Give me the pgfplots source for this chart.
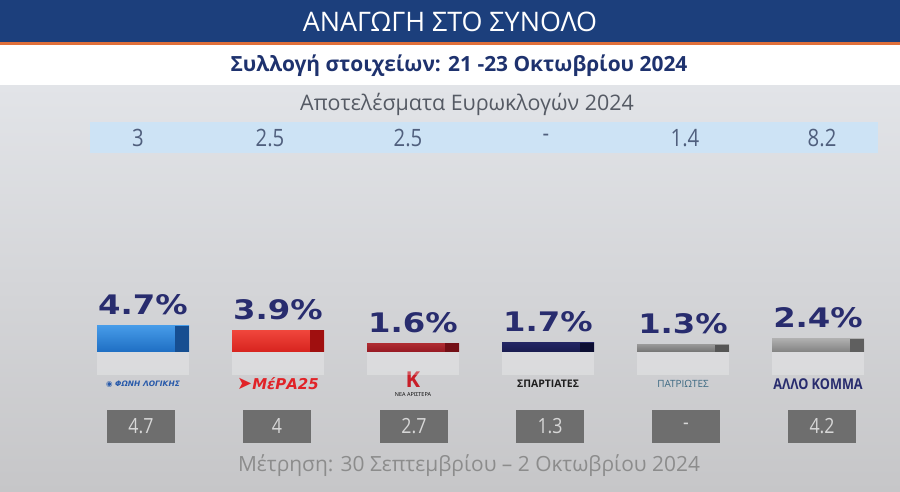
\documentclass[border=0pt]{standalone}
\usepackage{fontspec}
\setmainfont{Open Sans}
\newfontfamily\condfont{Open Sans}[FakeStretch=0.85]
\newfontfamily\pctfont{DejaVu Sans}[FakeStretch=1.2]
\newfontfamily\dejavu{DejaVu Sans}
\usepackage{pgfplots}
\pgfplotsset{compat=1.18}
\definecolor{navyband}{RGB}{28,63,124}
\definecolor{orangeline}{RGB}{224,112,58}
\definecolor{subnavy}{RGB}{30,50,110}
\definecolor{pctnavy}{RGB}{40,44,110}
\definecolor{bandblue}{RGB}{205,227,245}
\definecolor{topval}{RGB}{80,95,125}
\definecolor{boxgray}{RGB}{110,110,110}
\definecolor{boxtext}{RGB}{215,215,215}
\definecolor{footgray}{RGB}{140,140,140}
\definecolor{headgray}{RGB}{85,90,100}
\definecolor{bgtop}{RGB}{226,228,232}
\definecolor{bgmid}{RGB}{243,243,244}
\definecolor{bgbot}{RGB}{198,198,200}
\definecolor{blueL}{RGB}{70,155,232}
\definecolor{blueD}{RGB}{30,110,195}
\definecolor{blueE}{RGB}{22,78,145}
\definecolor{redL}{RGB}{240,70,60}
\definecolor{redD}{RGB}{215,35,30}
\definecolor{redE}{RGB}{160,15,15}
\definecolor{drL}{RGB}{175,45,50}
\definecolor{drD}{RGB}{150,25,35}
\definecolor{drE}{RGB}{115,15,22}
\definecolor{nvL}{RGB}{35,38,100}
\definecolor{nvD}{RGB}{25,28,80}
\definecolor{nvE}{RGB}{12,14,50}
\definecolor{g1L}{RGB}{150,150,150}
\definecolor{g1D}{RGB}{115,115,115}
\definecolor{g1E}{RGB}{85,85,85}
\definecolor{g2L}{RGB}{175,175,175}
\definecolor{g2D}{RGB}{130,130,130}
\definecolor{g2E}{RGB}{95,95,95}
\definecolor{flblue}{RGB}{40,90,170}
\definecolor{mera}{RGB}{225,35,40}
\definecolor{neared}{RGB}{200,30,40}
\definecolor{spblack}{RGB}{30,30,30}
\definecolor{patteal}{RGB}{60,105,130}
\pgfplotsset{
  pct/.style={nodes near coords, point meta=explicit symbolic,
    every node near coord/.style={anchor=base, yshift=11bp, inner sep=0pt,
      font=\pctfont\bfseries\fontsize{27}{30}\selectfont, text=pctnavy}},
  mainbar/.style={ybar, bar width=0.6815, bar shift=0, draw=none},
  endbar/.style={ybar, bar width=0.1037, bar shift=0.2889, draw=none},
}
\begin{document}
\begin{tikzpicture}[x=1bp,y=1bp]
\useasboundingbox (0,0) rectangle (900,492);
\shade[top color=bgtop, middle color=bgmid, bottom color=bgbot] (0,0) rectangle (900,407);
\fill[white] (0,407) rectangle (900,447);
\fill[orangeline] (0,447) rectangle (900,449.5);
\fill[navyband] (0,449.5) rectangle (900,492);
\node[text=white, font=\fontsize{27}{30}\selectfont] at (450,470) {ΑΝΑΓΩΓΗ ΣΤΟ ΣΥΝΟΛΟ};
\node[text=subnavy, font=\bfseries\fontsize{21}{25}\selectfont] at (459,426) {Συλλογή στοιχείων: 21 -23 Οκτωβρίου 2024};
\node[text=headgray, font=\fontsize{21.5}{25}\selectfont] at (467,388) {Αποτελέσματα Ευρωκλογών 2024};
\fill[bandblue] (90,339) rectangle (878,370);
\node[text=footgray, font=\fontsize{21}{25}\selectfont] at (469,26) {Μέτρηση: 30 Σεπτεμβρίου – 2 Οκτωβρίου 2024};
\begin{axis}[at={(0,0)}, anchor=south west, scale only axis,
  width=900bp, height=492bp,
  xmin=-1.05926, xmax=5.60741, ymin=-25.225, ymax=63.423,
  axis line style={draw=none}, tick style={draw=none}, major tick length=0pt,
  clip=false, ytick=\empty, xtick={0,...,5},
  xticklabels={
    {\color{flblue}\dejavu\bfseries\itshape\fontsize{7.5}{9}\selectfont ◉ ΦΩΝΗ ΛΟΓΙΚΗΣ},
    {\color{mera}\dejavu\bfseries\itshape\fontsize{15}{17}\selectfont {\fontsize{18}{18}\selectfont ➤}ΜέΡΑ25},
    {\color{neared}\bfseries\fontsize{22}{20}\selectfont K\\[-3pt]\fontsize{5.5}{6}\selectfont ΝΕΑ ΑΡΙΣΤΕΡΑ},
    {\color{spblack}\bfseries\fontsize{10.5}{12}\selectfont ΣΠΑΡΤΙΑΤΕΣ},
    {\color{patteal}\fontsize{10}{11}\selectfont ΠΑΤΡΙΩΤΕΣ},
    {\color{pctnavy}\condfont\bfseries\fontsize{15}{17}\selectfont ΑΛΛΟ ΚΟΜΜΑ}},
  xticklabel style={anchor=center, yshift=108bp, align=center},
]
\pgfplotsinvokeforeach{0,...,5}{
  \fill[white, opacity=0.25] (axis cs:#1-0.34,0) rectangle (axis cs:#1+0.34,-4.2);
}
% main bars (survey values)
\addplot[mainbar, top color=blueL, bottom color=blueD, pct] coordinates {(0,4.7) [4.7\%]};
\addplot[endbar, fill=blueE] coordinates {(0,4.7)};
\addplot[mainbar, top color=redL, bottom color=redD, pct] coordinates {(1,3.9) [3.9\%]};
\addplot[endbar, fill=redE] coordinates {(1,3.9)};
\addplot[mainbar, top color=drL, bottom color=drD, pct] coordinates {(2,1.6) [1.6\%]};
\addplot[endbar, fill=drE] coordinates {(2,1.6)};
\addplot[mainbar, top color=nvL, bottom color=nvD, pct] coordinates {(3,1.7) [1.7\%]};
\addplot[endbar, fill=nvE] coordinates {(3,1.7)};
\addplot[mainbar, top color=g1L, bottom color=g1D, pct] coordinates {(4,1.3) [1.3\%]};
\addplot[endbar, fill=g1E] coordinates {(4,1.3)};
\addplot[mainbar, top color=g2L, bottom color=g2D, pct] coordinates {(5,2.4) [2.4\%]};
\addplot[endbar, fill=g2E] coordinates {(5,2.4)};
% European election results 2024 (top row)
\addplot[draw=none, mark=none, nodes near coords, point meta=explicit symbolic,
  every node near coord/.style={anchor=center, inner sep=0pt,
    font=\condfont\fontsize{24}{28}\selectfont, text=topval}]
  table[meta=lab] {
x y lab
-0.037 38.56 3
0.941 38.56 2.5
1.963 38.56 2.5
2.985 38.56 -
4.015 38.56 1.4
5.030 38.56 8.2
};
% previous measurement (bottom boxes)
\addplot[draw=none, mark=none, nodes near coords, point meta=explicit symbolic,
  every node near coord/.style={anchor=center, fill=boxgray, minimum width=68bp,
    minimum height=33bp, inner sep=0pt,
    font=\condfont\fontsize{21}{24}\selectfont, text=boxtext}]
  table[meta=lab] {
x y lab
-0.015 -13.42 4.7
0.993 -13.42 4
2.007 -13.42 2.7
3.015 -13.42 1.3
4.022 -13.42 -
5.030 -13.42 4.2
};
\end{axis}
\end{tikzpicture}
\end{document}
